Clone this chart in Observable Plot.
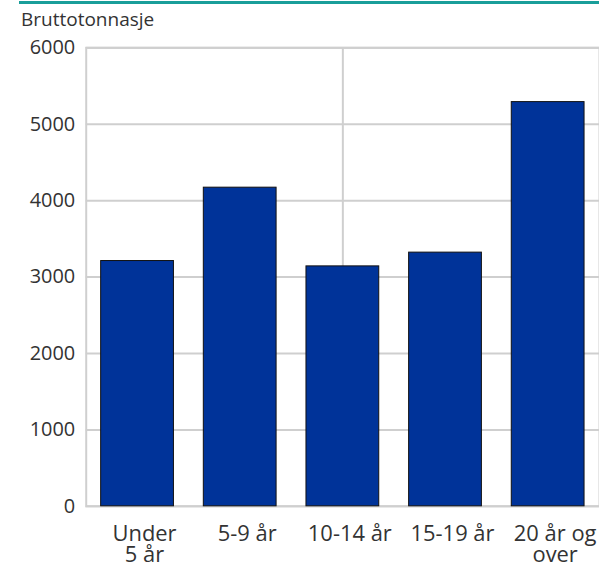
<!DOCTYPE html>
<html>
<head>
<meta charset="utf-8">
<script src="https://cdn.jsdelivr.net/npm/d3@7"></script>
<script src="https://cdn.jsdelivr.net/npm/@observablehq/plot@0.6"></script>
<style>
  html, body { margin: 0; padding: 0; background: #fff; }
  #wrap { position: relative; width: 599px; height: 567px; overflow: hidden; font-family: "Open Sans", sans-serif; }
  #topline { position: absolute; left: 19px; top: 1px; width: 580px; height: 3px; background: #199e9a; }
  #title { position: absolute; left: 21px; top: 6px; font-size: 19px; color: #333; line-height: normal; z-index: 2; }
  #chart { position: absolute; left: 0; top: 0; }
</style>
</head>
<body>
<div id="wrap">
  <div id="topline"></div>
  <div id="title">Bruttotonnasje</div>
  <div id="chart"></div>
</div>
<script>
const categories = ["Under\n5 år", "5-9 år", "10-14 år", "15-19 år", "20 år og\nover"];
const values = [3210, 4170, 3140, 3320, 5290];
const yTicks = [0, 1000, 2000, 3000, 4000, 5000, 6000];

const data = categories.map((c, i) => ({category: c, value: values[i]}));

const chart = Plot.plot({
  width: 601,
  height: 567,
  marginTop: 47.5,
  marginBottom: 59.5,
  marginLeft: 86,
  marginRight: 0,
  style: {fontFamily: "'Open Sans', sans-serif", background: "transparent"},
  x: {type: "band", domain: categories, paddingInner: 0.291, paddingOuter: 0.1456, round: false, axis: null},
  y: {domain: [0, 6000], axis: null},
  marks: [
    Plot.ruleY(yTicks, {stroke: "#cfcfcf", strokeWidth: 2}),
    Plot.ruleX([categories[2]], {stroke: "#cfcfcf", strokeWidth: 2}),
    Plot.frame({stroke: "#cfcfcf", strokeWidth: 2}),
    Plot.barY(data, {x: "category", y: "value", fill: "#003399", stroke: "#111", strokeWidth: 1}),
    Plot.text(yTicks, {y: d => d, text: d => String(d), frameAnchor: "left", textAnchor: "end", dx: -11, fontSize: 20, fill: "#333"}),
    Plot.text(categories, {x: d => d, frameAnchor: "bottom", lineAnchor: "top", dy: 19.5, dx: 7, fontSize: 22, lineHeight: 0.97, fill: "#333"})
  ]
});
document.getElementById("chart").appendChild(chart);
</script>
</body>
</html>
